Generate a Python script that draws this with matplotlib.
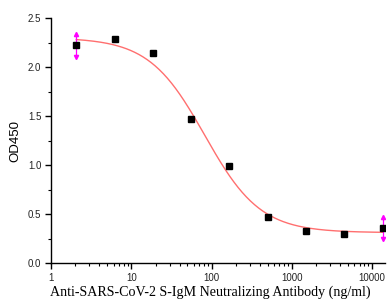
import numpy as np
import matplotlib
matplotlib.use("Agg")
import matplotlib.pyplot as plt
from matplotlib.ticker import LogLocator, FixedLocator, NullFormatter, FuncFormatter

# Data
conc = [2.06, 6.17, 18.5, 55.6, 166.7, 500, 1500, 4500, 13500]
od = [2.22, 2.29, 2.14, 1.47, 0.99, 0.47, 0.33, 0.30, 0.36]
err_idx = [0, 8]
err_val = [0.12, 0.11]

# 4PL fit parameters (estimated)
fit_top = 2.30
fit_bottom = 0.31
fit_ec50 = 82.0
fit_hill = 1.25

xticks = [1, 10, 100, 1000, 10000]
xticklabels = ["1", "10", "100", "1000", "10000"]
yticks = [0.0, 0.5, 1.0, 1.5, 2.0, 2.5]

fig = plt.figure(figsize=(3.87, 3.06), dpi=100)
ax = fig.add_axes([0.132, 0.1405, 0.863, 0.8005])

xf = np.logspace(np.log10(conc[0]), np.log10(conc[-1]), 300)
yf = fit_bottom + (fit_top - fit_bottom) / (1 + (xf / fit_ec50) ** fit_hill)
ax.plot(xf, yf, color="#ff6f6f", lw=1.0, zorder=2)

for i, e in zip(err_idx, err_val):
    ax.plot([conc[i], conc[i]], [od[i] - e, od[i] + e], color="#ff00ff", lw=0.9, zorder=3)
    ax.plot([conc[i]], [od[i] + e], marker="^", color="#ff00ff", ms=3, zorder=3)
    ax.plot([conc[i]], [od[i] - e], marker="v", color="#ff00ff", ms=3, zorder=3)

ax.plot(conc, od, ls="none", marker="s", ms=4.5, color="black", zorder=4)

ax.set_xscale("log")
ax.set_xlim(1, 14500)
ax.set_ylim(0, 2.5)
ax.xaxis.set_major_locator(FixedLocator(xticks))
ax.set_xticklabels(xticklabels)
ax.xaxis.set_minor_locator(LogLocator(base=10, subs=np.arange(2, 10), numticks=20))
ax.xaxis.set_minor_formatter(NullFormatter())
ax.set_yticks(yticks)
ax.yaxis.set_major_formatter(FuncFormatter(lambda v, p: f"{v:.1f}"))
ax.yaxis.set_minor_locator(FixedLocator(np.arange(0.25, 2.5, 0.5)))

for s in ["top", "right"]:
    ax.spines[s].set_visible(False)
for s in ["left", "bottom"]:
    ax.spines[s].set_linewidth(1.0)

ax.tick_params(which="major", direction="out", length=4, width=1,
               labelsize=7, colors="black")
ax.tick_params(axis="x", which="major", pad=3.5)
ax.tick_params(axis="y", which="major", pad=3)
ax.tick_params(which="minor", direction="out", length=2, width=0.8)
for lab in ax.get_xticklabels() + ax.get_yticklabels():
    lab.set_family("Liberation Sans")
    lab.set_color("#222222")

ax.set_ylabel("OD450", family="Liberation Sans", fontsize=9.5, labelpad=5)
ax.set_xlabel("Anti-SARS-CoV-2 S-IgM Neutralizing Antibody (ng/ml)",
              family="Liberation Serif", fontsize=10.1, labelpad=4)
ax.xaxis.set_label_coords(0.476, -0.09)

fig.savefig("out.png", dpi=100)
